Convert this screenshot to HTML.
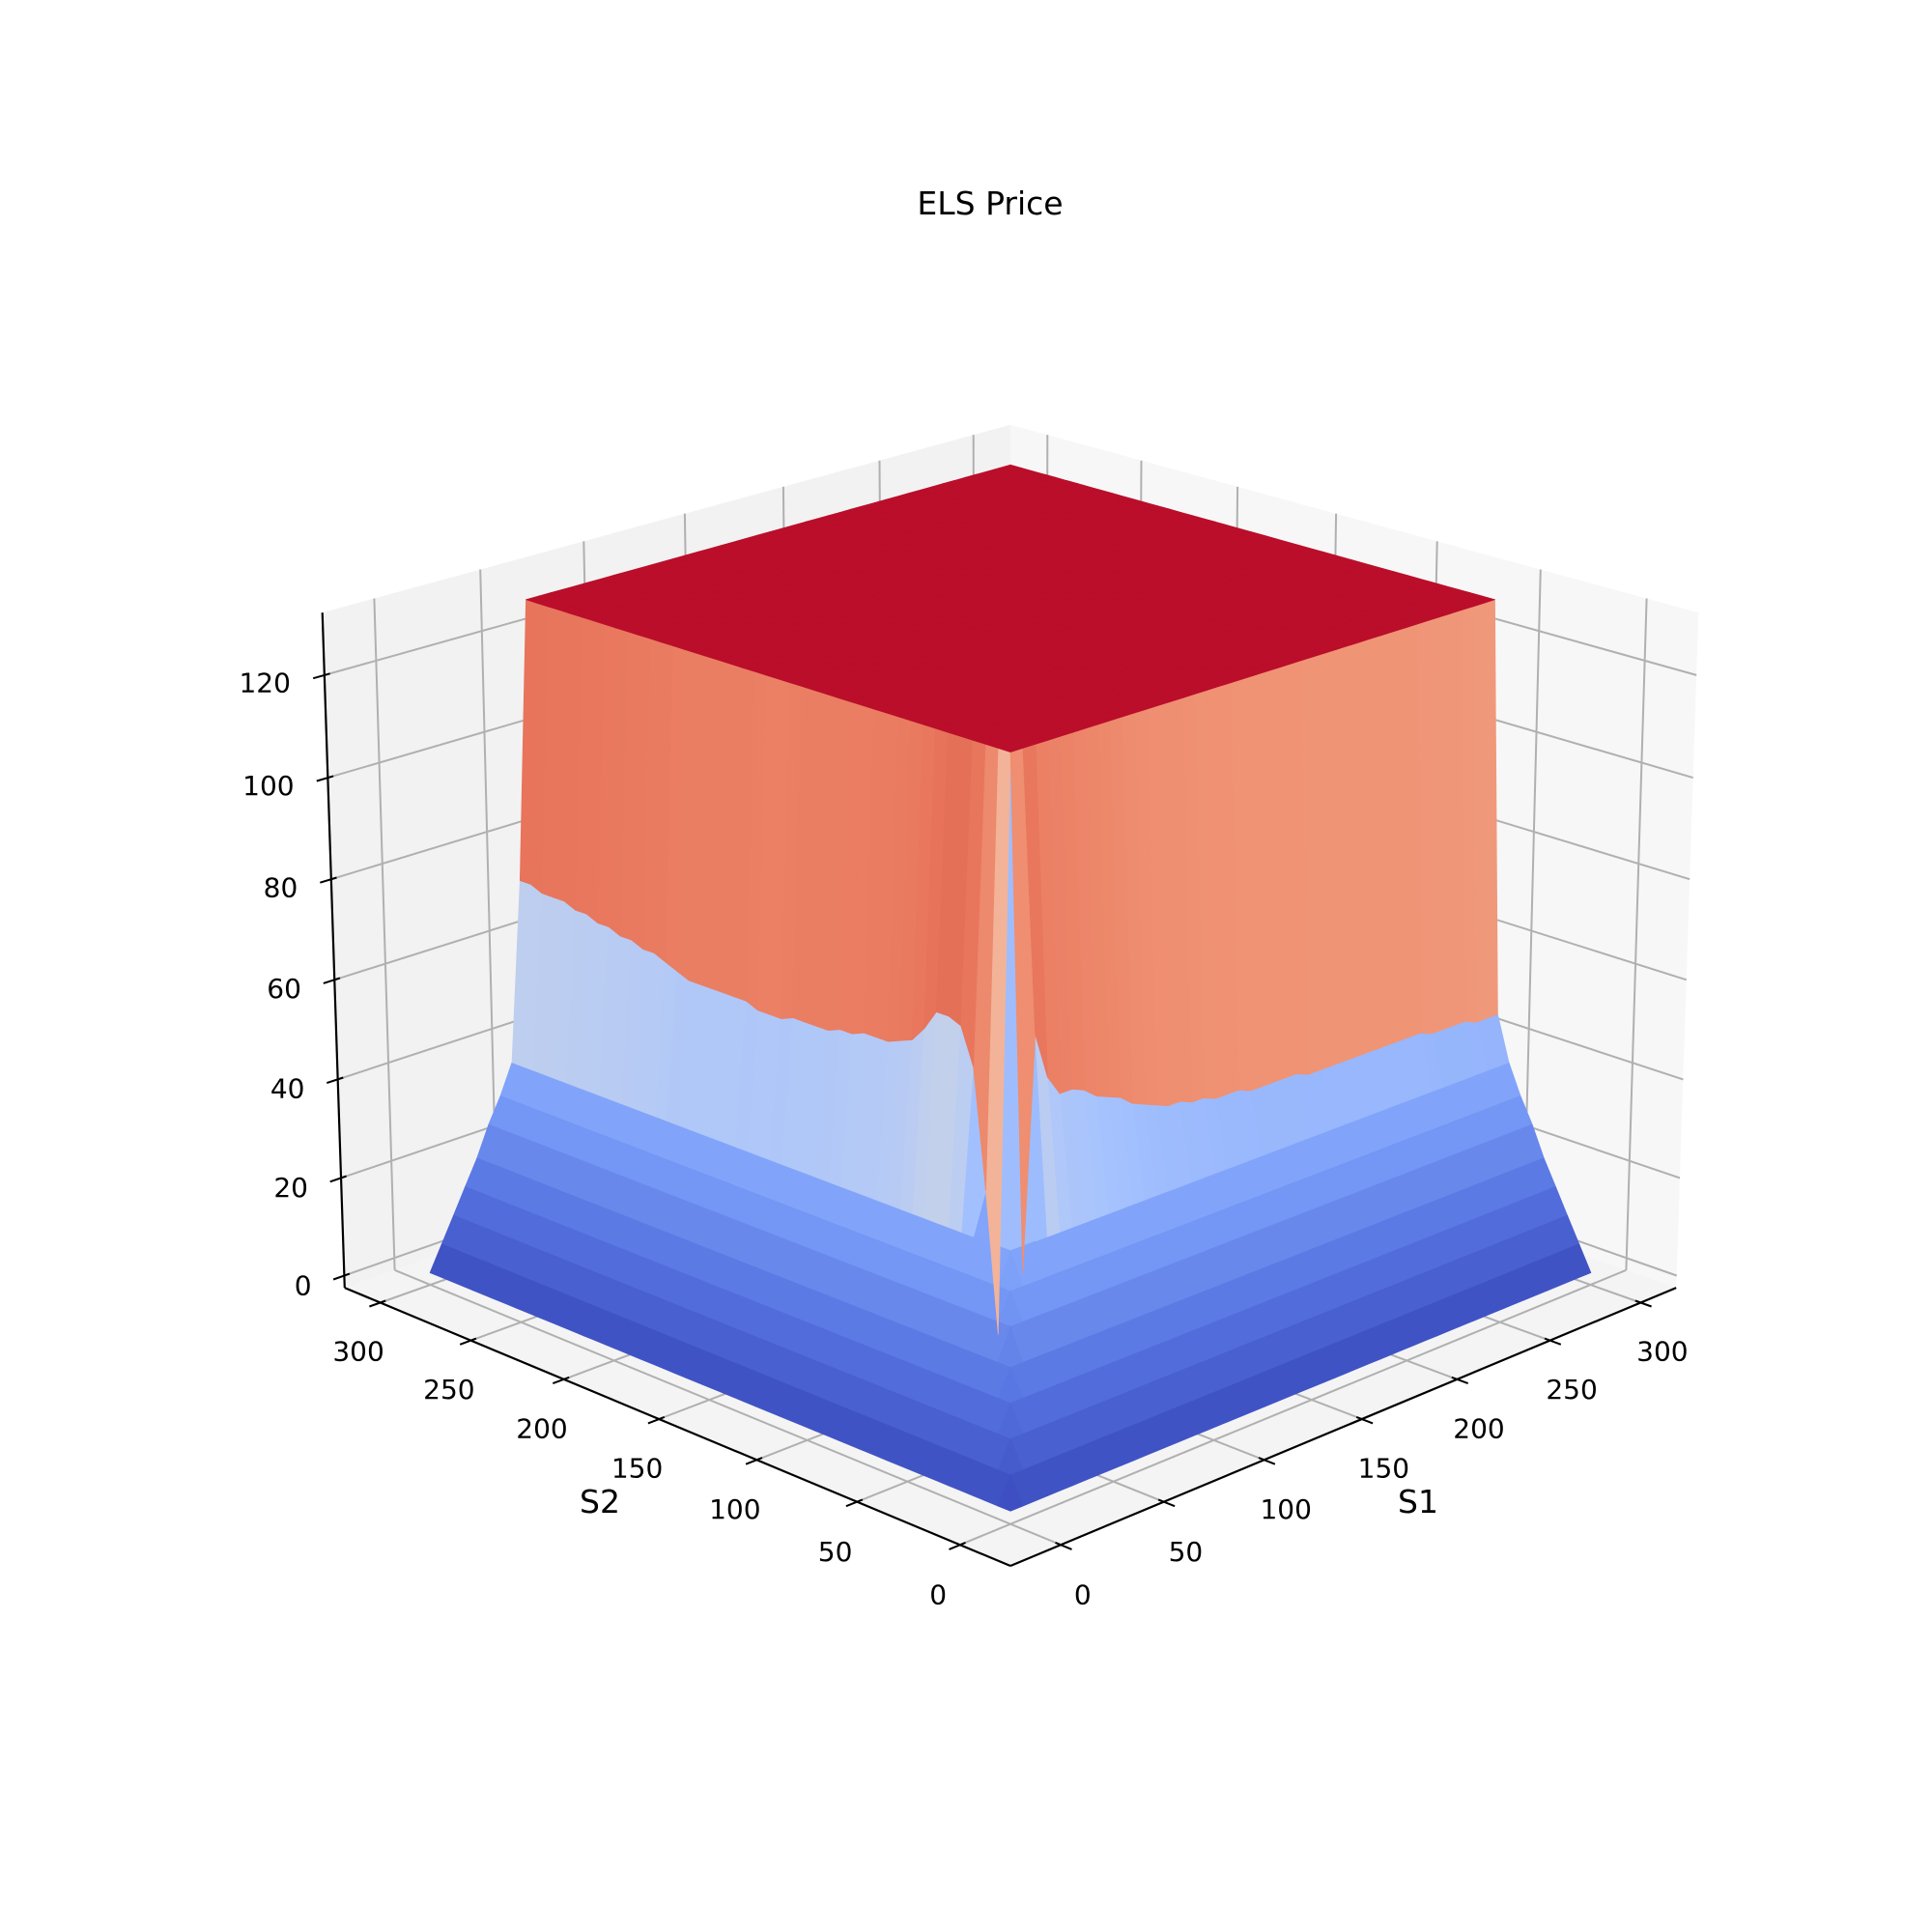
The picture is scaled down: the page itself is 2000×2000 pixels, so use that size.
<!DOCTYPE html>
<html><head><meta charset="utf-8"><title>ELS Price</title>
<style>html,body{margin:0;padding:0;background:#fff}svg{display:block}text{font-family:"DejaVu Sans","Liberation Sans",sans-serif}</style>
</head><body>
<svg id="chart" width="2000" height="2000" viewBox="0 0 2000 2000" xmlns="http://www.w3.org/2000/svg">
<rect width="2000" height="2000" fill="#ffffff"/>
<text x="1025" y="222" font-size="33" text-anchor="middle" fill="#000">ELS Price</text>
<g id="panes"></g>
<g id="grid"></g>
<g id="axes"></g>
<g id="surface"></g>
<text x="1468" y="1566" font-size="33" text-anchor="middle" fill="#000">S1</text>
<text x="621" y="1566" font-size="33" text-anchor="middle" fill="#000">S2</text>
</svg>
<script>
// ---- data ----
const sGrid = [0,6,12,18,24,30,36,42,48,54,60,66,72,78,84,90,96,102,108,114,120,126,132,138,144,150,156,162,168,174,180,186,192,198,204,210,216,222,228,234,240,246,252,258,264,270,276,282,288,294,300];
const rampZ = [0,5,10,15,20,26,31,37];
const cliffLeft = [5,18,45,68,75,76,76,72,69,68,67,67,67,66,66,65,65,65,65,64,64,64,65,65,65,65,65,65,66,67,68,68,69,69,70,70,71,71,72,72,72,73,73];
const cliffRight = [5,30,75,66,62,62,61,59,58,57,55,54,53,52,52,51,51,50,50,50,49,49,49,49,49,48,48,48,48,48,48,48,48,48,48,48,47,47,47,47,46,46,46];
const topZ = [128];
const sTicks = [0,50,100,150,200,250,300];
const zTicks = [0,20,40,60,80,100,120];

// ---- projection ----
const SMIN=-24,SMAX=320,ZMIN=-2.5,ZMAX=132.1;
const EL=19.9*Math.PI/180, CE=Math.cos(EL), SE=Math.sin(EL), DIST=15.5, K=495.4, CX=1046, CY=989.4, R2=Math.SQRT2;
function nx(s){return -1+2*(s-SMIN)/(SMAX-SMIN);}
function nz(z){return -0.75+1.5*(z-ZMIN)/(ZMAX-ZMIN);}
function P(x,y,z){
  const pr=(x-y)/R2, pc=-CE*(x+y)/R2+SE*z, pu=SE*(x+y)/R2+CE*z, d=1-pc/DIST;
  return [CX+K*pr/d, CY-K*pu/d, pc];
}
function proj(s1,s2,z){return P(nx(s1),nx(s2),nz(z));}

const NS='http://www.w3.org/2000/svg';
function mk(tag,attrs,parent){const e=document.createElementNS(NS,tag);for(const k in attrs)e.setAttribute(k,attrs[k]);parent.appendChild(e);return e;}
function pts(a){return a.map(p=>p[0].toFixed(1)+','+p[1].toFixed(1)).join(' ');}

// panes
const gp=document.getElementById('panes');
let e;
e=mk('polygon',{points:pts([P(-1,1,-.75),P(1,1,-.75),P(1,1,.75),P(-1,1,.75)]),fill:'#f2f2f2'},gp);


e=mk('polygon',{points:pts([P(1,-1,-.75),P(1,1,-.75),P(1,1,.75),P(1,-1,.75)]),fill:'#f7f7f7'},gp);


e=mk('polygon',{points:pts([P(-1,-1,-.75),P(1,-1,-.75),P(1,1,-.75),P(-1,1,-.75)]),fill:'#f4f4f4'},gp);



// grid
const gg=document.getElementById('grid');
function line(a,b,parent,color,w,name){const l=mk('line',{x1:a[0].toFixed(1),y1:a[1].toFixed(1),x2:b[0].toFixed(1),y2:b[1].toFixed(1),stroke:color,'stroke-width':w},parent);


return l;}
sTicks.forEach(t=>{const x=nx(t);
  line(P(x,-1,-.75),P(x,1,-.75),gg,'#b0b0b0',2,'s1-gridline');
  line(P(x,1,-.75),P(x,1,.75),gg,'#b0b0b0',2,'s1-gridline');
  line(P(-1,x,-.75),P(1,x,-.75),gg,'#b0b0b0',2,'s2-gridline');
  line(P(1,x,-.75),P(1,x,.75),gg,'#b0b0b0',2,'s2-gridline');
});
zTicks.forEach(t=>{const z=nz(t);
  line(P(-1,1,z),P(1,1,z),gg,'#b0b0b0',2,'z-gridline');
  line(P(1,1,z),P(1,-1,z),gg,'#b0b0b0',2,'z-gridline');
});

// axes
const ga=document.getElementById('axes');
line(P(-1,-1,-.75),P(1,-1,-.75),ga,'#000',2.2,'s1-axis-line');
line(P(-1,-1,-.75),P(-1,1,-.75),ga,'#000',2.2,'s2-axis-line');
line(P(-1,1,-.75),P(-1,1,.75),ga,'#000',2.2,'z-axis-line');
function label(p,txt,anchor,name,dy){const t=mk('text',{x:p[0].toFixed(1),y:(p[1]+dy).toFixed(1),'font-size':'28','text-anchor':anchor,fill:'#000'},ga);t.textContent=txt;

}
sTicks.forEach(t=>{const x=nx(t);
  line(P(x,-1+0.015,-.75),P(x,-1-0.03,-.75),ga,'#000',2,'s1-tick');
  line(P(-1+0.015,x,-.75),P(-1-0.03,x,-.75),ga,'#000',2,'s2-tick');
  label(P(x,-1.06,-.75),String(t),'middle','s1-tick-label',52);
  label(P(-1.06,x,-.75),String(t),'middle','s2-tick-label',52);
});
zTicks.forEach(t=>{const z=nz(t);
  line(P(-1+0.015,1,z),P(-1-0.03,1,z),ga,'#000',2,'z-tick');
  label(P(-1.09,1,z),String(t),'end','z-tick-label',8);
});

// surface
function zAt(i,j){
  const mi=Math.min(i,j), Mi=Math.max(i,j);
  if(mi<rampZ.length) return rampZ[mi];
  if(mi===rampZ.length){ const k=Mi-rampZ.length; return (i<=j)?cliffLeft[k]:cliffRight[k]; }
  return topZ[0];
}
const cm=[[0,59,76,192],[0.125,88,118,226],[0.25,124,159,249],[0.375,166,195,254],[0.5,221,220,220],[0.6,244,190,165],[0.69,240,147,117],[0.78,232,118,92],[0.875,214,82,68],[1,186,14,42]];
function cmap(v){v=Math.max(0,Math.min(1,v));for(let k=1;k<cm.length;k++){if(v<=cm[k][0]){const a=cm[k-1],b=cm[k],f=(v-a[0])/(b[0]-a[0]);return 'rgb('+[1,2,3].map(c=>Math.round(a[c]+(b[c]-a[c])*f)).join(',')+')';}}return 'rgb(186,14,42)';}
const n=sGrid.length, Z=[];
let zmin=1e9,zmax=-1e9;
for(let i=0;i<n;i++){Z.push([]);for(let j=0;j<n;j++){const z=zAt(i,j);Z[i].push(z);zmin=Math.min(zmin,z);zmax=Math.max(zmax,z);}}
const quads=[];
for(let i=0;i<n-1;i++)for(let j=0;j<n-1;j++){
  const c=[[i,j],[i+1,j],[i+1,j+1],[i,j+1]].map(q=>proj(sGrid[q[0]],sGrid[q[1]],Z[q[0]][q[1]]));
  const zavg=(Z[i][j]+Z[i+1][j]+Z[i+1][j+1]+Z[i][j+1])/4;
  const dep=(c[0][2]+c[1][2]+c[2][2]+c[3][2])/4;
  quads.push({c,zavg,dep});
}
quads.sort((a,b)=>a.dep-b.dep);
const gs=document.getElementById('surface');
quads.forEach(q=>{const col=cmap((q.zavg-zmin)/(zmax-zmin));
  const p=mk('polygon',{points:pts(q.c),fill:col,stroke:col,'stroke-width':'0.7','stroke-linejoin':'round'},gs);
  
  
});
</script>
</body></html>
